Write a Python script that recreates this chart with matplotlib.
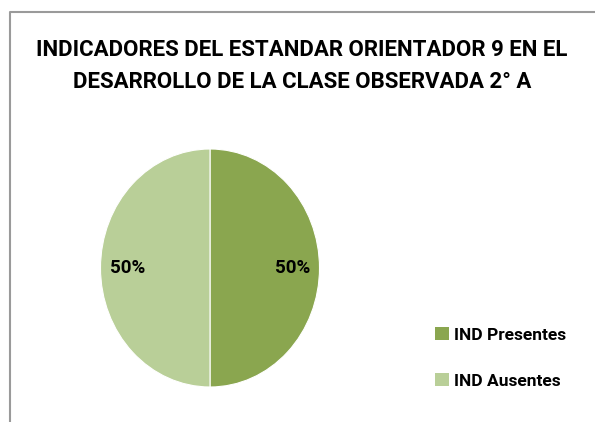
import matplotlib.pyplot as plt
from matplotlib.lines import Line2D
from matplotlib.patches import Patch

plt.rcParams['font.family'] = ['Roboto', 'DejaVu Sans']

# datos del grafico
categorias = ['IND Presentes', 'IND Ausentes']
valores = [50, 50]
colores = ['#8AA64F', '#B9CF98']
titulo = 'INDICADORES DEL ESTANDAR ORIENTADOR 9 EN EL\nDESARROLLO DE LA CLASE OBSERVADA 2° A'

W, H = 595, 422
fig = plt.figure(figsize=(W / 100, H / 100), dpi=100)

# marco gris del area del grafico (izquierda y arriba)
fig.add_artist(Line2D([10 / W, 10 / W, 1], [0, 1 - 12 / H, 1 - 12 / H],
                      transform=fig.transFigure, color='#9A9A9A', lw=1.5))

fig.text(302 / W, 1 - 66 / H, titulo, ha='center', va='center',
         fontsize=16, fontweight='bold', linespacing=1.6)

ax = fig.add_axes([(210 - 109.5) / W, (H - 387) / H, 219 / W, 238 / H])
wedges, textos, autotextos = ax.pie(valores, colors=colores, startangle=90,
                                    counterclock=False, autopct='%1.0f%%',
                                    pctdistance=0.75,
                                    wedgeprops=dict(edgecolor='white', linewidth=0.8),
                                    textprops=dict(fontsize=13.5, fontweight='bold'))
ax.set_aspect('auto')
ax.set_xlim(-1, 1)
ax.set_ylim(-1, 1)

handles = [Patch(facecolor=c, edgecolor='none') for c in colores]
fig.legend(handles, categorias, loc='center left',
           bbox_to_anchor=(419 / W, 1 - 358 / H), frameon=False,
           prop=dict(size=12.5, weight='bold'), handlelength=0.8,
           handleheight=0.8, handletextpad=0.3, labelspacing=1.75)

fig.savefig('out.png', dpi=100)
